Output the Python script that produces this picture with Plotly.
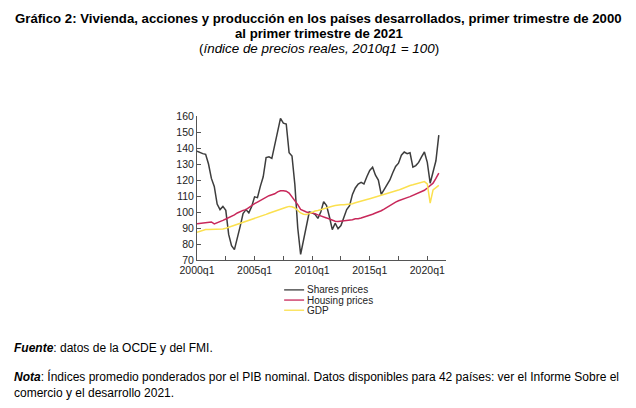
import plotly.graph_objects as go

quarters = [f"{y}q{q}" for y in range(2000, 2022) for q in range(1, 5)][:85]

shares = [138, 137, 136.5, 136, 130, 121, 116, 105, 101.5, 103.5,
          101, 86, 79, 76.5, 83, 91, 99, 101.5, 99.5, 103.5,
          109.5, 109, 116, 122, 134, 134.5, 133.5, 142, 152, 158.5,
          155.5, 155, 137, 135, 117, 90, 73.5, 83, 93, 100,
          99.5, 98.5, 96, 100, 106.5, 104, 97, 89, 93, 89.5,
          91.5, 96.5, 101.5, 104, 111, 115, 117.5, 118.5, 117.5, 122,
          126, 128, 123, 120, 111, 114, 117, 120, 124.5, 128.5,
          130.5, 135.5, 137.5, 136.5, 137, 128, 129, 131, 134.5, 137.5,
          131, 118, 125, 132, 148]

housing = [92.6, 92.8, 93.0, 93.3, 93.6, 93.8, 92.6, 93.2, 94.2, 94.8,
           95.6, 96.4, 97.2, 98.2, 99.4, 100.4, 101.0, 101.5, 102.8, 104.2,
           105.2, 106.2, 107.2, 108.4, 109.6, 110.2, 110.8, 111.4, 112.6, 113.3,
           113.3, 113.0, 111.8, 109.6, 107.4, 104.6, 101.6, 100.6, 100.0, 99.6,
           99.4, 99.0, 98.2, 97.4, 96.8, 96.3, 95.6, 94.8, 94.2, 94.0,
           94.2, 94.4, 94.6, 94.8, 95.2, 95.8, 95.8, 96.3, 96.8, 97.3,
           97.8, 98.6, 99.4, 100.0, 100.8, 101.8, 103.0, 104.2, 105.4, 106.2,
           107.0, 107.8, 108.6, 109.0, 109.6, 110.4, 111.0, 111.8, 112.6, 113.6,
           115.0, 116.4, 118.0, 121.0, 124.3]

gdp = [87.3, 88.0, 88.6, 89.0, 89.0, 89.0, 89.0, 89.0, 89.1, 89.4,
       89.9, 90.5, 91.0, 91.5, 92.0, 92.6, 93.2, 94.0, 94.6, 95.2,
       95.9, 96.6, 97.3, 97.9, 98.5, 99.2, 99.9, 100.6, 101.3, 101.8,
       102.4, 103.0, 103.5, 103.3, 102.5, 100.8, 99.4, 98.6, 98.4, 99.0,
       100.0, 100.6, 101.0, 101.6, 102.2, 102.8, 103.2, 103.6, 104.0, 104.4,
       104.6, 104.6, 104.7, 104.9, 105.2, 105.8, 106.4, 107.0, 107.4, 107.8,
       108.3, 108.8, 109.4, 110.0, 110.5, 110.9, 111.4, 111.9, 112.4, 113.0,
       113.7, 114.4, 115.2, 116.0, 116.6, 117.0, 117.6, 118.0, 118.5, 119.0,
       117.5, 105.6, 113.8, 115.4, 116.6]

tick_cats = ["2000q1", "2002q3", "2005q1", "2007q3", "2010q1",
             "2012q3", "2015q1", "2017q3", "2020q1"]
tick_text = ["2000q1", "", "2005q1", "", "2010q1", "", "2015q1", "", "2020q1"]

series_names = ["Shares prices", "Housing prices", "GDP"]
series_colors = ["#3d3d3d", "#c8285a", "#fbe04f"]
series_data = [shares, housing, gdp]

# page body has an 8px margin: figure sized to fill the rest of the window,
# all reference positions below are in window pixels and shifted by OFF.
OFF = 8
W, H = 636 - OFF, 408 - OFF
ML = 196.8 - OFF
MT = 116 - OFF
MR = 636 - 446
MB = 408 - 260.5
PW, PH = W - ML - MR, H - MT - MB


def px(x):
    return (x - OFF - ML) / PW


def py(y):
    return (H - MB - (y - OFF)) / PH


fig = go.Figure()
for name, col, vals in zip(series_names, series_colors, series_data):
    fig.add_trace(go.Scatter(x=quarters, y=vals, mode="lines", name=name,
                             line=dict(color=col, width=1.5), showlegend=False))

# compact legend
for i, (name, col) in enumerate(zip(series_names, series_colors)):
    yy = 290.5 + i * 10.2
    fig.add_shape(type="line", xref="paper", yref="paper",
                  x0=px(284), x1=px(304), y0=py(yy), y1=py(yy),
                  line=dict(color=col, width=1.3))
    fig.add_annotation(xref="paper", yref="paper", x=px(305), y=py(yy),
                       xanchor="left", yanchor="middle", showarrow=False,
                       text=name, font=dict(family="Arial, Liberation Sans", size=10, color="#222"))

font_t = "Arial, Liberation Sans"

fig.add_annotation(xref="paper", yref="paper", x=px(318.5), y=py(18),
                   xanchor="center", yanchor="middle", showarrow=False,
                   text="<b>Gráfico 2: Vivienda, acciones y producción en los países desarrollados, primer trimestre de 2000</b>",
                   font=dict(family=font_t, size=13.2, color="#000"))
fig.add_annotation(xref="paper", yref="paper", x=px(318.5), y=py(33),
                   xanchor="center", yanchor="middle", showarrow=False,
                   text="<b>al primer trimestre de 2021</b>",
                   font=dict(family=font_t, size=13.2, color="#000"))
fig.add_annotation(xref="paper", yref="paper", x=px(319), y=py(48),
                   xanchor="center", yanchor="middle", showarrow=False,
                   text="(<i>índice de precios reales, 2010q1 = 100</i>)",
                   font=dict(family=font_t, size=13.4, color="#000"))

fig.add_annotation(xref="paper", yref="paper", x=px(12), y=py(349),
                   xanchor="left", yanchor="middle", showarrow=False,
                   text="<b><i>Fuente</i></b>: datos de la OCDE y del FMI.",
                   font=dict(family=font_t, size=12, color="#000"))
fig.add_annotation(xref="paper", yref="paper", x=px(12), y=py(385.5),
                   xanchor="left", yanchor="middle", showarrow=False, align="left",
                   text="<b><i>Nota</i></b>: Índices promedio ponderados por el PIB nominal. Datos disponibles para 42 países: ver el Informe Sobre el<br>comercio y el desarrollo 2021.",
                   font=dict(family=font_t, size=12, color="#000"))

fig.update_layout(
    width=W, height=H,
    margin=dict(l=ML, r=MR, t=MT, b=MB, pad=0),
    paper_bgcolor="white", plot_bgcolor="white",
    xaxis=dict(type="category", range=[0, 86.5], tickmode="array",
               tickvals=tick_cats, ticktext=tick_text,
               ticks="inside", ticklen=4, tickcolor="#555",
               showline=True, linecolor="#555", linewidth=1,
               showgrid=False, zeroline=False,
               tickfont=dict(family="Arial, Liberation Sans", size=10.5, color="#222")),
    yaxis=dict(range=[70, 160], dtick=10, tick0=70,
               ticks="inside", ticklen=4, tickcolor="#555",
               showline=True, linecolor="#555", linewidth=1,
               showgrid=False, zeroline=False,
               tickfont=dict(family="Arial, Liberation Sans", size=10.5, color="#222")),
)

fig.write_html("out.html")
